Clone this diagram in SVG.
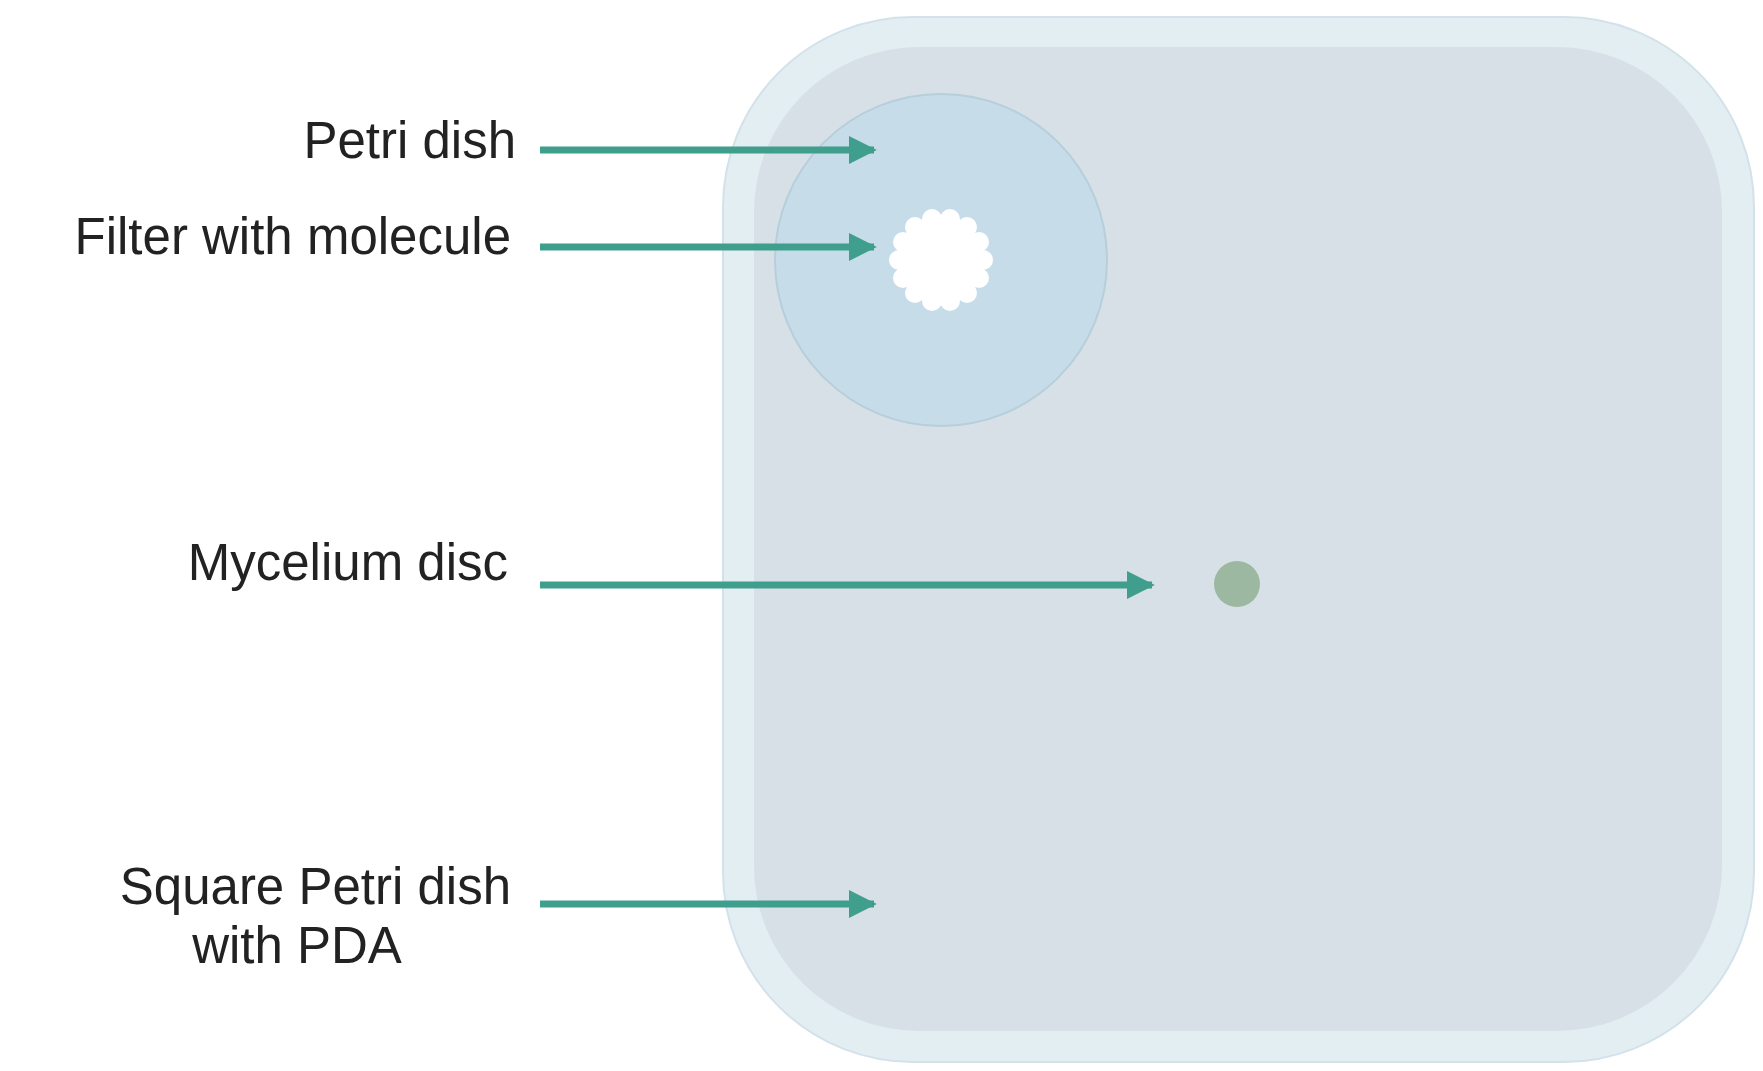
<svg xmlns="http://www.w3.org/2000/svg" width="1763" height="1071" viewBox="0 0 1763 1071">
<defs>
<style>
.lbl{font-family:"Liberation Sans",Arial,sans-serif;font-size:51px;fill:#222}
.arr{stroke:#3f9e8c;stroke-width:7;fill:none;marker-end:url(#ah)}
</style>
<marker id="ah" viewBox="0 0 10 10" refX="9" refY="5" markerWidth="4" markerHeight="4.4" orient="auto" markerUnits="strokeWidth"><path d="M0,0L10,5L0,10z" fill="#3f9e8c"/></marker>
</defs>
<rect width="1763" height="1071" fill="#fff"/>
<g id="square-dish">
<rect x="723" y="17" width="1031" height="1045" rx="190" fill="#e3eef3" stroke="#d3e2ea" stroke-width="2"/>
<rect x="754" y="47" width="968" height="984" rx="165" fill="#d6e0e6"/>
</g>
<g id="petri-dish">
<circle cx="941" cy="260" r="166" fill="#c6dce8" stroke="#b7cedb" stroke-width="2"/>
</g>
<g id="filter" fill="#fff">
<circle cx="941" cy="260" r="44"/>
<g>
<circle cx="983" cy="260" r="10"/><circle cx="979" cy="278" r="10"/><circle cx="967" cy="293" r="10"/><circle cx="950" cy="301" r="10"/><circle cx="932" cy="301" r="10"/><circle cx="915" cy="293" r="10"/><circle cx="903" cy="278" r="10"/><circle cx="899" cy="260" r="10"/><circle cx="903" cy="242" r="10"/><circle cx="915" cy="227" r="10"/><circle cx="932" cy="219" r="10"/><circle cx="950" cy="219" r="10"/><circle cx="967" cy="227" r="10"/><circle cx="979" cy="242" r="10"/>
</g>
</g>
<g id="mycelium-disc"><circle cx="1237" cy="584" r="23" fill="#9db8a0"/></g>
<g id="connectors">
<line class="arr" x1="540" y1="150" x2="874" y2="150"/>
<line class="arr" x1="540" y1="247" x2="874" y2="247"/>
<line class="arr" x1="540" y1="585" x2="1152" y2="585"/>
<line class="arr" x1="540" y1="904" x2="874" y2="904"/>
</g>
<g id="labels" text-anchor="end">
<text class="lbl" x="516" y="158">Petri dish</text>
<text class="lbl" x="511" y="254">Filter with molecule</text>
<text class="lbl" x="508" y="580">Mycelium disc</text>
<text class="lbl" x="511" y="904">Square Petri dish</text>
<text class="lbl" x="297" y="963" text-anchor="middle">with PDA</text>
</g>
</svg>
